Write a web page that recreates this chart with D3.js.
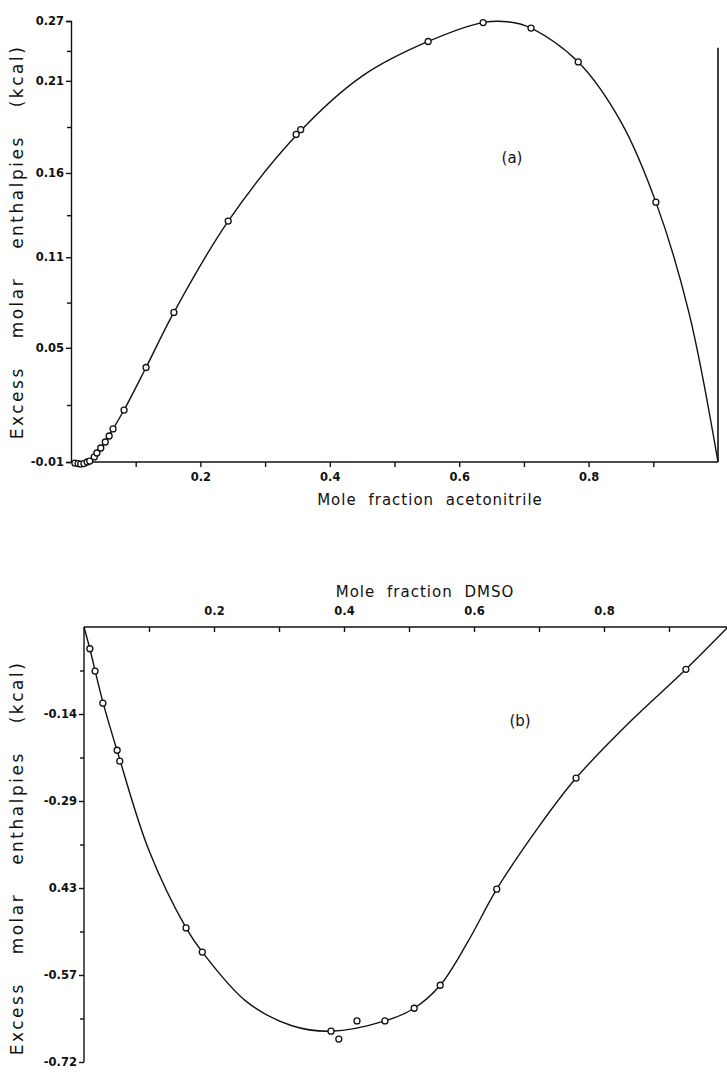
<!DOCTYPE html>
<html lang="en">
<head>
<meta charset="UTF-8">
<title>Excess molar enthalpies</title>
<script src="https://cdn.jsdelivr.net/npm/d3@7"></script>
<style>
  body { margin: 0; background: #fff; }
  text { font-family: "DejaVu Sans", sans-serif; fill: #111; }
  .tick text { font-size: 11.5px; font-weight: bold; }
  .domain, .tick line { stroke: #111; stroke-width: 1.4; }
</style>
</head>
<body>
<svg id="mainsvg" width="727" height="1075"></svg>
<script>
// ---- panel (a): acetonitrile ----
const aPointsX = [0.006, 0.011, 0.015, 0.020, 0.025, 0.029, 0.036, 0.040, 0.046, 0.053, 0.059, 0.065,
                  0.082, 0.116, 0.159, 0.243, 0.348, 0.355, 0.552, 0.637, 0.711, 0.784, 0.904];
const aPointsY = [-0.0107, -0.011, -0.0113, -0.011, -0.010, -0.0094, -0.0068, -0.0043, -0.0011, 0.0027, 0.0065, 0.011,
                  0.023, 0.050, 0.085, 0.143, 0.198, 0.201, 0.257, 0.269, 0.2655, 0.244, 0.155];
// fitted curve as drawn in the figure
const aCurveX = [0, 0.02, 0.035, 0.05, 0.065, 0.082, 0.116, 0.159, 0.243, 0.352, 0.45, 0.552, 0.637, 0.675, 0.711, 0.784, 0.85, 0.904, 0.955, 1.0];
const aCurveY = [-0.010, -0.011, -0.007, 0.001, 0.011, 0.023, 0.050, 0.085, 0.143, 0.199, 0.235, 0.257, 0.269, 0.2695, 0.2655, 0.244, 0.206, 0.155, 0.085, -0.010];
// tick values as they sit on the printed axis, with their printed labels
const aYTicks = [-0.01, 0.0625, 0.1200, 0.1735, 0.2320, 0.27];
const aYLabels = ['-0.01', '0.05', '0.11', '0.16', '0.21', '0.27'];
const aYMinor = [0.0262, 0.0912, 0.1467, 0.2027, 0.2510];
const aXTicks = [0.1, 0.2, 0.3, 0.4, 0.5, 0.6, 0.7, 0.8, 0.9];
const aXLabels = {0.2: '0.2', 0.4: '0.4', 0.6: '0.6', 0.8: '0.8'};

// ---- panel (b): DMSO ----
const bPointsX = [0.009, 0.017, 0.029, 0.051, 0.055, 0.157, 0.182, 0.380, 0.392, 0.420, 0.463, 0.508, 0.548, 0.635, 0.757, 0.926];
const bPointsY = [-0.036, -0.073, -0.126, -0.204, -0.222, -0.498, -0.538, -0.669, -0.682, -0.652, -0.652, -0.631, -0.593, -0.434, -0.250, -0.070];
const bCurveX = [0, 0.009, 0.017, 0.029, 0.053, 0.10, 0.157, 0.182, 0.25, 0.32, 0.38, 0.463, 0.508, 0.548, 0.59, 0.635, 0.70, 0.757, 0.84, 0.926, 1.0];
const bCurveY = [0, -0.036, -0.072, -0.124, -0.212, -0.37, -0.498, -0.538, -0.62, -0.660, -0.669, -0.652, -0.631, -0.593, -0.522, -0.434, -0.330, -0.250, -0.157, -0.070, 0.010];
const bYTicks = [-0.144, -0.288, -0.432, -0.576, -0.72];
const bYLabels = ['-0.14', '-0.29', '0.43', '-0.57', '-0.72'];
const bYMinor = [-0.072, -0.216, -0.36, -0.504, -0.648];
const bXTicks = [0.1, 0.2, 0.3, 0.4, 0.5, 0.6, 0.7, 0.8, 0.9];
const bXLabels = {0.2: '0.2', 0.4: '0.4', 0.6: '0.6', 0.8: '0.8'};

const svg = d3.select('#mainsvg');

function drawCurve(g, xs, ys, x, y) {
  const pts = xs.map((d, i) => [d, ys[i]]);
  g.append('path')
    .attr('d', d3.line().x(d => x(d[0])).y(d => y(d[1])).curve(d3.curveCatmullRom.alpha(0.5))(pts))
    .attr('fill', 'none').attr('stroke', '#111').attr('stroke-width', 1.4);
}
function drawPoints(g, xs, ys, x, y) {
  g.selectAll('circle.pt').data(xs.map((d, i) => [d, ys[i]])).enter()
    .append('circle').attr('class', 'pt')
    .attr('cx', d => x(d[0])).attr('cy', d => y(d[1])).attr('r', 3)
    .attr('fill', '#fff').attr('stroke', '#111').attr('stroke-width', 1.3);
}
function xTitle(g, x, y, txt) {
  g.append('text').attr('x', x).attr('y', y).attr('text-anchor', 'middle')
    .style('font-size', '15px').style('letter-spacing', '1px').style('word-spacing', '6px')
    .text(txt);
}
function yTitle(g, x, y, txt) {
  g.append('text').attr('transform', `translate(${x},${y}) rotate(-90)`).attr('text-anchor', 'middle')
    .style('font-size', '17px').style('letter-spacing', '2.5px').style('word-spacing', '20px')
    .text(txt);
}

// panel a
const xA = d3.scaleLinear().domain([0, 1]).range([71, 718]);
const yA = d3.scaleLinear().domain([-0.01, 0.27]).range([462, 21]);
const gA = svg.append('g');

gA.append('g').attr('transform', 'translate(71,0)')
  .call(d3.axisLeft(yA).tickValues(aYTicks).tickSize(5).tickPadding(2)
    .tickFormat((d, i) => aYLabels[i]));
gA.append('g').attr('transform', 'translate(71,0)')
  .call(d3.axisLeft(yA).tickValues(aYMinor).tickSize(4).tickFormat(''))
  .select('.domain').remove();
gA.append('g').attr('transform', 'translate(0,462)')
  .call(d3.axisBottom(xA).tickValues(aXTicks).tickSize(5).tickPadding(6)
    .tickFormat(d => aXLabels[d] || ''))
  .call(g => g.select('.domain').attr('d', `M71,0H718`));
// right-hand border line
gA.append('line').attr('x1', xA(1)).attr('x2', xA(1)).attr('y1', yA(0.253)).attr('y2', yA(-0.01))
  .attr('stroke', '#111').attr('stroke-width', 1.6);

drawCurve(gA, aCurveX, aCurveY, xA, yA);
drawPoints(gA, aPointsX, aPointsY, xA, yA);

gA.append('text').attr('x', 512).attr('y', 163).attr('text-anchor', 'middle')
  .style('font-size', '15px').text('(a)');
xTitle(gA, 430, 505, 'Mole fraction acetonitrile');
yTitle(gA, 23, 242, 'Excess molar enthalpies (kcal)');

// panel b
const xB = d3.scaleLinear().domain([0, 1]).range([84, 734]);
const yB = d3.scaleLinear().domain([-0.72, 0]).range([1062, 627]);
const gB = svg.append('g');

gB.append('g').attr('transform', 'translate(84,0)')
  .call(d3.axisLeft(yB).tickValues(bYTicks).tickSize(5).tickPadding(2)
    .tickFormat((d, i) => bYLabels[i]))
  .call(g => g.select('.domain').attr('d', `M0,${yB(0)}V${yB(-0.72)}`));
gB.append('g').attr('transform', 'translate(84,0)')
  .call(d3.axisLeft(yB).tickValues(bYMinor).tickSize(4).tickFormat(''))
  .select('.domain').remove();
gB.append('g').attr('transform', 'translate(0,627)')
  .call(d3.axisTop(xB).tickValues(bXTicks).tickSize(-5).tickPadding(12)
    .tickFormat(d => bXLabels[d] || ''))
  .call(g => g.select('.domain').attr('d', `M84,0H734`));

drawCurve(gB, bCurveX, bCurveY, xB, yB);
drawPoints(gB, bPointsX, bPointsY, xB, yB);

gB.append('text').attr('x', 520).attr('y', 726).attr('text-anchor', 'middle')
  .style('font-size', '15px').text('(b)');
xTitle(gB, 425, 597, 'Mole fraction DMSO');
yTitle(gB, 23, 858, 'Excess molar enthalpies (kcal)');
</script>
</body>
</html>
